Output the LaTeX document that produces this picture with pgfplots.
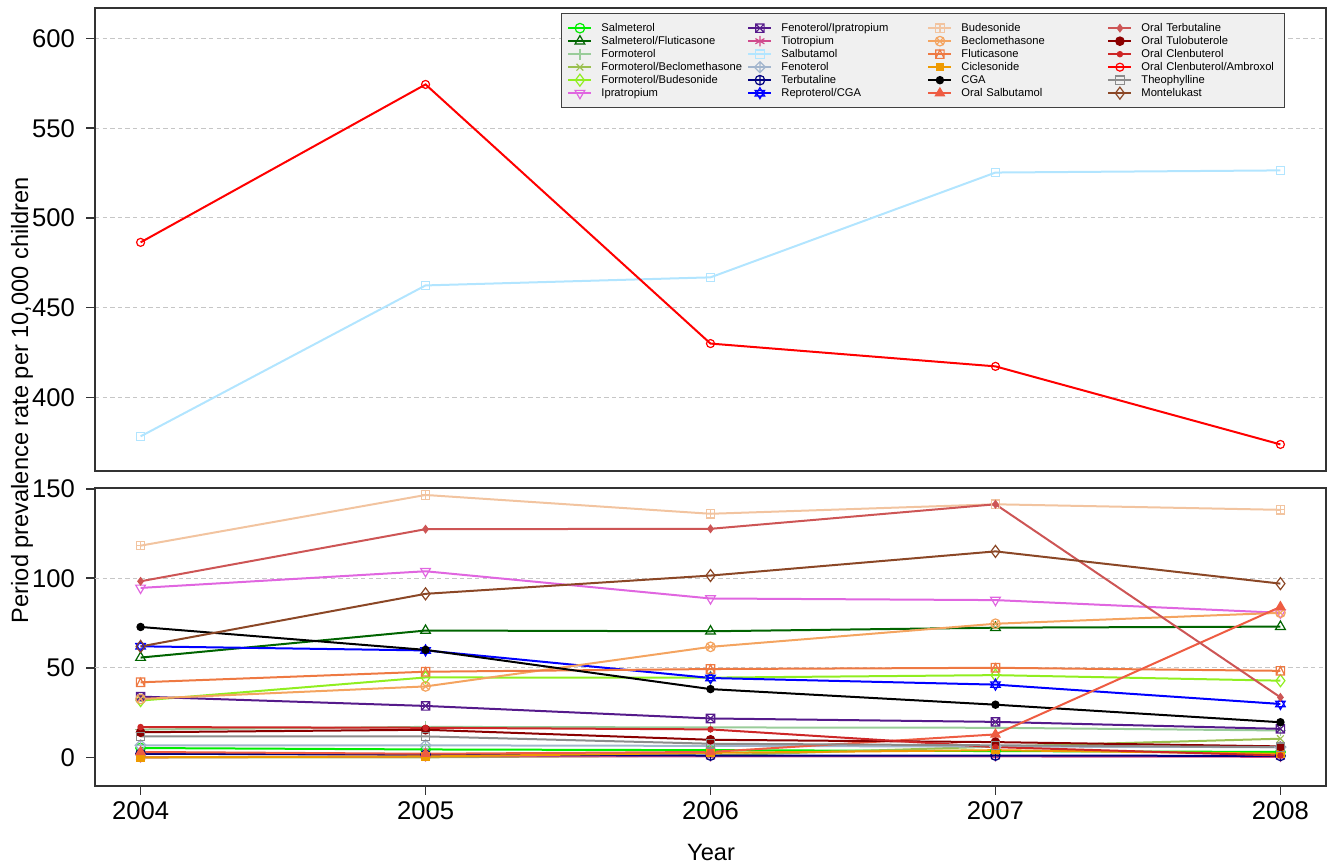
\documentclass[border=0pt]{standalone}
\usepackage{fontspec}
\setmainfont{Liberation Sans}
\usepackage{pgfplots}
\pgfplotsset{compat=1.18}
\usetikzlibrary{plotmarks}

% series colours
\definecolor{cSalm}{HTML}{00EE00}
\definecolor{cSalmFlut}{HTML}{006400}
\definecolor{cForm}{HTML}{99CC99}
\definecolor{cFormBecl}{HTML}{9BC050}
\definecolor{cFormBud}{HTML}{90EE20}
\definecolor{cIpra}{HTML}{E066E0}
\definecolor{cFenIpr}{HTML}{551A8B}
\definecolor{cTio}{HTML}{D04A8C}
\definecolor{cSalb}{HTML}{B2E5FF}
\definecolor{cFen}{HTML}{A2B5CD}
\definecolor{cTerb}{HTML}{000080}
\definecolor{cRepro}{HTML}{0000FF}
\definecolor{cBude}{HTML}{F2C4A0}
\definecolor{cBecl}{HTML}{F4A460}
\definecolor{cFlut}{HTML}{EE7942}
\definecolor{cCicl}{HTML}{EE9A00}
\definecolor{cOSalb}{HTML}{EE5C42}
\definecolor{cOTerb}{HTML}{CD5555}
\definecolor{cOTulo}{HTML}{8B0000}
\definecolor{cOClen}{HTML}{CD2626}
\definecolor{cOCA}{HTML}{FF0000}
\definecolor{cTheo}{HTML}{8C8C8C}
\definecolor{cMont}{HTML}{8B4726}

% a few R-like marks
\pgfdeclareplotmark{sqx}{%
  \pgfpathrectangle{\pgfqpoint{-\pgfplotmarksize}{-\pgfplotmarksize}}{\pgfqpoint{2\pgfplotmarksize}{2\pgfplotmarksize}}%
  \pgfpathmoveto{\pgfqpoint{-\pgfplotmarksize}{-\pgfplotmarksize}}\pgfpathlineto{\pgfqpoint{\pgfplotmarksize}{\pgfplotmarksize}}%
  \pgfpathmoveto{\pgfqpoint{-\pgfplotmarksize}{\pgfplotmarksize}}\pgfpathlineto{\pgfqpoint{\pgfplotmarksize}{-\pgfplotmarksize}}%
  \pgfusepathqstroke}
\pgfdeclareplotmark{sqplus}{%
  \pgfpathrectangle{\pgfqpoint{-\pgfplotmarksize}{-\pgfplotmarksize}}{\pgfqpoint{2\pgfplotmarksize}{2\pgfplotmarksize}}%
  \pgfpathmoveto{\pgfqpoint{-\pgfplotmarksize}{0pt}}\pgfpathlineto{\pgfqpoint{\pgfplotmarksize}{0pt}}%
  \pgfpathmoveto{\pgfqpoint{0pt}{\pgfplotmarksize}}\pgfpathlineto{\pgfqpoint{0pt}{-\pgfplotmarksize}}%
  \pgfusepathqstroke}
\pgfdeclareplotmark{sqtri}{%
  \pgfpathrectangle{\pgfqpoint{-\pgfplotmarksize}{-\pgfplotmarksize}}{\pgfqpoint{2\pgfplotmarksize}{2\pgfplotmarksize}}%
  \pgfpathmoveto{\pgfqpoint{-\pgfplotmarksize}{-\pgfplotmarksize}}\pgfpathlineto{\pgfqpoint{0pt}{\pgfplotmarksize}}%
  \pgfpathlineto{\pgfqpoint{\pgfplotmarksize}{-\pgfplotmarksize}}%
  \pgfusepathqstroke}
\pgfdeclareplotmark{dplus}{%
  \pgfpathmoveto{\pgfqpoint{0pt}{1.3\pgfplotmarksize}}\pgfpathlineto{\pgfqpoint{1.3\pgfplotmarksize}{0pt}}%
  \pgfpathlineto{\pgfqpoint{0pt}{-1.3\pgfplotmarksize}}\pgfpathlineto{\pgfqpoint{-1.3\pgfplotmarksize}{0pt}}\pgfpathclose
  \pgfpathmoveto{\pgfqpoint{-1.3\pgfplotmarksize}{0pt}}\pgfpathlineto{\pgfqpoint{1.3\pgfplotmarksize}{0pt}}%
  \pgfpathmoveto{\pgfqpoint{0pt}{1.3\pgfplotmarksize}}\pgfpathlineto{\pgfqpoint{0pt}{-1.3\pgfplotmarksize}}%
  \pgfusepathqstroke}
\pgfdeclareplotmark{david}{%
  \pgfpathmoveto{\pgfpointpolar{90}{1.2\pgfplotmarksize}}\pgfpathlineto{\pgfpointpolar{210}{1.2\pgfplotmarksize}}%
  \pgfpathlineto{\pgfpointpolar{330}{1.2\pgfplotmarksize}}\pgfpathclose
  \pgfpathmoveto{\pgfpointpolar{270}{1.2\pgfplotmarksize}}\pgfpathlineto{\pgfpointpolar{30}{1.2\pgfplotmarksize}}%
  \pgfpathlineto{\pgfpointpolar{150}{1.2\pgfplotmarksize}}\pgfpathclose
  \pgfusepathqstroke}

\pgfplotsset{
  base/.style={scale only axis, width=615.5pt,
    xmin=2003.84, xmax=2008.16,
    axis line style={black!80, line width=0.8pt},
    every tick/.style={black!80, line width=0.8pt},
    tick align=outside, major tick length=4.5pt,
    ytick pos=left, xtick pos=bottom,
    /pgf/number format/assume math mode=true,
    tick label style={font=\fontsize{12.8}{14}\selectfont},
    yticklabel style={xshift=-2pt},
    grid style={dash pattern=on 2.2pt off 1.6pt, gray!45, line width=0.5pt}},
  legend image code/.code={\draw[mark repeat=2, mark phase=2, #1] plot coordinates {(0pt,0pt) (5.75pt,0pt) (11.5pt,0pt)};},
  pl/.style={line width=1pt, mark size=2.4pt, mark options={solid, line width=0.6pt}},
  pSalm/.style={pl, cSalm, mark=o},
  pSalmFlut/.style={pl, cSalmFlut, mark=triangle, mark size=2.8pt},
  pForm/.style={pl, cForm, mark=+, mark size=2.8pt},
  pFormBecl/.style={pl, cFormBecl, mark=x},
  pFormBud/.style={pl, cFormBud, mark=diamond, mark size=3pt},
  pIpra/.style={pl, cIpra, mark=triangle, mark size=2.8pt, mark options={solid, line width=0.6pt, rotate=180}},
  pFenIpr/.style={pl, cFenIpr, mark=sqx, mark size=2.1pt},
  pTio/.style={pl, cTio, mark=asterisk, mark size=2.6pt},
  pSalb/.style={pl, cSalb, mark=square, mark size=2.1pt},
  pFen/.style={pl, cFen, mark=dplus, mark size=2.1pt},
  pTerb/.style={pl, cTerb, mark=oplus},
  pRepro/.style={pl, cRepro, mark=david, mark size=2.3pt},
  pBude/.style={pl, cBude, mark=sqplus, mark size=2.1pt},
  pBecl/.style={pl, cBecl, mark=otimes},
  pFlut/.style={pl, cFlut, mark=sqtri, mark size=2.1pt},
  pCicl/.style={pl, cCicl, mark=square*, mark size=1.8pt},
  pCGA/.style={pl, black, mark=*, mark size=1.8pt},
  pOSalb/.style={pl, cOSalb, mark=triangle*, mark size=2.6pt},
  pOTerb/.style={pl, cOTerb, mark=diamond*, mark size=1.8pt},
  pOTulo/.style={pl, cOTulo, mark=*, mark size=2.1pt},
  pOClen/.style={pl, cOClen, mark=*, mark size=1.3pt},
  pOCA/.style={pl, cOCA, mark=o, mark size=2pt},
  pTheo/.style={pl, cTheo, mark=square, mark size=2.1pt},
  pMont/.style={pl, cMont, mark=diamond, mark size=3pt},
}

\begin{document}
\begin{tikzpicture}
\useasboundingbox (-47.5pt,-39.5pt) rectangle (616.5pt,393pt);

% upper panel: the two large series
\begin{axis}[base, at={(0pt,157.5pt)}, anchor=south west, height=231.5pt,
  ymin=359, ymax=617, ytick={400,450,500,550,600}, ymajorgrids,
  xtick=\empty,
  legend columns=4, legend cell align=left,
  legend style={at={(0.9667,0.989)}, anchor=north east,
    fill=black!6, draw=black!75, line width=0.6pt,
    font=\fontsize{5.6}{6.5}\selectfont,
    inner xsep=3pt, inner ysep=4pt, column sep=4.5pt, row sep=0pt,
    nodes={inner xsep=0pt, inner ysep=0.5pt, text height=4.3pt, text depth=1.2pt, text width=68.5pt, align=left}}]
\addplot[pSalb, forget plot] coordinates {(2004,378.3) (2005,462.4) (2006,466.9) (2007,525.3) (2008,526.5)};
\addplot[pOCA, forget plot] coordinates {(2004,486.4) (2005,574.4) (2006,430.0) (2007,417.3) (2008,373.8)};
% legend, row by row
\addlegendimage{pSalm}\addlegendentry{Salmeterol}
\addlegendimage{pFenIpr}\addlegendentry{Fenoterol/Ipratropium}
\addlegendimage{pBude}\addlegendentry{Budesonide}
\addlegendimage{pOTerb}\addlegendentry{Oral Terbutaline}
\addlegendimage{pSalmFlut}\addlegendentry{Salmeterol/Fluticasone}
\addlegendimage{pTio}\addlegendentry{Tiotropium}
\addlegendimage{pBecl}\addlegendentry{Beclomethasone}
\addlegendimage{pOTulo}\addlegendentry{Oral Tulobuterole}
\addlegendimage{pForm}\addlegendentry{Formoterol}
\addlegendimage{pSalb}\addlegendentry{Salbutamol}
\addlegendimage{pFlut}\addlegendentry{Fluticasone}
\addlegendimage{pOClen}\addlegendentry{Oral Clenbuterol}
\addlegendimage{pFormBecl}\addlegendentry{Formoterol/Beclomethasone}
\addlegendimage{pFen}\addlegendentry{Fenoterol}
\addlegendimage{pCicl}\addlegendentry{Ciclesonide}
\addlegendimage{pOCA}\addlegendentry{Oral Clenbuterol/Ambroxol}
\addlegendimage{pFormBud}\addlegendentry{Formoterol/Budesonide}
\addlegendimage{pTerb}\addlegendentry{Terbutaline}
\addlegendimage{pCGA}\addlegendentry{CGA}
\addlegendimage{pTheo}\addlegendentry{Theophylline}
\addlegendimage{pIpra}\addlegendentry{Ipratropium}
\addlegendimage{pRepro}\addlegendentry{Reproterol/CGA}
\addlegendimage{pOSalb}\addlegendentry{Oral Salbutamol}
\addlegendimage{pMont}\addlegendentry{Montelukast}
\end{axis}

% lower panel
\begin{axis}[base, at={(0pt,0pt)}, anchor=south west, height=149pt,
  ymin=-16, ymax=150.4, ytick={0,50,100,150},
  extra y ticks={50,100}, extra y tick labels={,},
  extra y tick style={grid=major, major tick length=0pt},
  xtick={2004,2005,2006,2007,2008},
  xticklabels={2004,2005,2006,2007,2008}]
\addplot[pSalm] coordinates {(2004,5.2) (2005,4.4) (2006,4.0) (2007,3.5) (2008,3.0)};
\addplot[pSalmFlut] coordinates {(2004,55.7) (2005,70.8) (2006,70.4) (2007,72.4) (2008,73.0)};
\addplot[pForm] coordinates {(2004,15.5) (2005,17.0) (2006,16.7) (2007,16.5) (2008,15.0)};
\addplot[pFormBecl] coordinates {(2004,0) (2005,0) (2006,1.0) (2007,6.0) (2008,10.4)};
\addplot[pFormBud] coordinates {(2004,31.7) (2005,44.6) (2006,44.5) (2007,45.9) (2008,42.8)};
\addplot[pIpra] coordinates {(2004,94.6) (2005,103.9) (2006,88.7) (2007,87.8) (2008,80.7)};
\addplot[pFenIpr] coordinates {(2004,33.9) (2005,28.7) (2006,21.7) (2007,19.8) (2008,15.9)};
\addplot[pTio] coordinates {(2004,0) (2005,0.5) (2006,0.5) (2007,0.5) (2008,0.3)};
\addplot[pFen] coordinates {(2004,6.7) (2005,6.7) (2006,6.4) (2007,6.0) (2008,5.7)};
\addplot[pTerb] coordinates {(2004,2.0) (2005,1.5) (2006,1.0) (2007,1.0) (2008,0.8)};
\addplot[pRepro] coordinates {(2004,62.0) (2005,59.7) (2006,44.3) (2007,40.6) (2008,29.8)};
\addplot[pBude] coordinates {(2004,118.2) (2005,146.5) (2006,136.0) (2007,141.3) (2008,138.2)};
\addplot[pBecl] coordinates {(2004,32.6) (2005,39.6) (2006,61.7) (2007,74.6) (2008,80.7)};
\addplot[pFlut] coordinates {(2004,41.9) (2005,47.8) (2006,49.3) (2007,50.0) (2008,48.3)};
\addplot[pCicl] coordinates {(2004,0) (2005,0.5) (2006,2.5) (2007,4.0) (2008,2.0)};
\addplot[pCGA] coordinates {(2004,72.8) (2005,60.0) (2006,38.1) (2007,29.4) (2008,19.6)};
\addplot[pOSalb] coordinates {(2004,3.0) (2005,2.0) (2006,3.0) (2007,12.8) (2008,84.0)};
\addplot[pOTerb] coordinates {(2004,98.3) (2005,127.4) (2006,127.6) (2007,141.3) (2008,33.5)};
\addplot[pOTulo] coordinates {(2004,14.0) (2005,15.4) (2006,9.8) (2007,8.5) (2008,6.1)};
\addplot[pOClen] coordinates {(2004,16.9) (2005,16.5) (2006,15.6) (2007,5.7) (2008,1.0)};
\addplot[pTheo] coordinates {(2004,11.7) (2005,11.7) (2006,7.6) (2007,6.7) (2008,5.7)};
\addplot[pMont] coordinates {(2004,61.9) (2005,91.3) (2006,101.5) (2007,115.0) (2008,97.0)};
\end{axis}

\node[rotate=90, font=\fontsize{11.8}{13}\selectfont] at (-36.5pt,193pt) {Period prevalence rate per 10,000 children};
\node[font=\fontsize{11.8}{13}\selectfont] at (308pt,-33.5pt) {Year};
\end{tikzpicture}
\end{document}
